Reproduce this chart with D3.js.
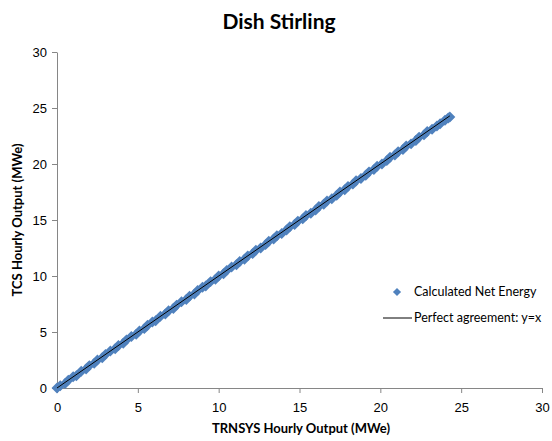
<!DOCTYPE html>
<html>
<head>
<meta charset="utf-8">
<script src="https://cdn.jsdelivr.net/npm/d3@7"></script>
<style>
  body { margin: 0; background: #fff; }
  svg { font-family: Lato, "Open Sans", sans-serif; }
</style>
</head>
<body>
<svg width="552" height="441"></svg>
<script>
// TRNSYS hourly output (MWe) vs TCS hourly output (MWe)
var trnsys = [
  0, 0.2, 0.5, 0.7, 1.0, 1.2, 1.5, 1.8, 2.0, 2.3,
  2.5, 2.8, 3.0, 3.3, 3.6, 3.8, 4.1, 4.3, 4.6, 4.9,
  5.1, 5.4, 5.6, 5.9, 6.1, 6.4, 6.7, 6.9, 7.2, 7.4,
  7.7, 8.0, 8.2, 8.5, 8.7, 9.0, 9.2, 9.5, 9.8, 10.0,
  10.3, 10.5, 10.8, 11.1, 11.3, 11.6, 11.8, 12.1, 12.3, 12.6,
  12.9, 13.1, 13.4, 13.6, 13.9, 14.2, 14.4, 14.7, 14.9, 15.2,
  15.4, 15.7, 16.0, 16.2, 16.5, 16.7, 17.0, 17.3, 17.5, 17.8,
  18.0, 18.3, 18.5, 18.8, 19.1, 19.3, 19.6, 19.8, 20.1, 20.4,
  20.6, 20.9, 21.1, 21.4, 21.6, 21.9, 22.2, 22.4, 22.7, 22.9,
  23.2, 23.5, 23.7, 24.0, 24.2, 24.3];
var tcs = [
  0, 0.2, 0.4, 0.7, 1.0, 1.1, 1.5, 1.7, 2.0, 2.2,
  2.5, 2.7, 3.0, 3.3, 3.5, 3.8, 4.0, 4.3, 4.6, 4.8,
  5.1, 5.3, 5.6, 5.9, 6.0, 6.4, 6.6, 6.9, 7.1, 7.4,
  7.7, 7.9, 8.2, 8.4, 8.7, 9.0, 9.1, 9.5, 9.7, 10.0,
  10.2, 10.5, 10.8, 11.0, 11.3, 11.5, 11.8, 12.0, 12.3, 12.5,
  12.8, 13.1, 13.3, 13.6, 13.8, 14.1, 14.4, 14.6, 14.9, 15.1,
  15.4, 15.6, 15.9, 16.2, 16.4, 16.7, 16.9, 17.2, 17.5, 17.7,
  18.0, 18.2, 18.5, 18.7, 19.0, 19.3, 19.5, 19.8, 20.0, 20.3,
  20.6, 20.8, 21.1, 21.3, 21.6, 21.8, 22.1, 22.4, 22.6, 22.9,
  23.1, 23.4, 23.6, 23.9, 24.1, 24.2];
var lineEnds = [0, 24.3];
var ticks = [0, 5, 10, 15, 20, 25, 30];
var seriesNames = ['Calculated Net Energy', 'Perfect agreement: y=x'];

var svg = d3.select('svg');
var margin = { top: 52, right: 10, bottom: 53, left: 57 };
var g = svg.append('g').attr('transform', `translate(${margin.left}, ${margin.top})`);

var blue = '#4f81bd';
var axisGrey = '#868686';

var x = d3.scaleLinear().domain([0, 30]).range([0, 485]);
var y = d3.scaleLinear().domain([0, 30]).range([336, 0]);

function customXAxis(sel) {
	sel.call(d3.axisBottom(x).tickValues(ticks).tickSize(5).tickSizeOuter(0));
	sel.select('.domain').attr('stroke', axisGrey);
	sel.selectAll('.tick line').attr('stroke', axisGrey);
	sel.selectAll('.tick text').attr('fill', '#000').attr('font-size', 13).attr('dy', '1.2em');
}

function customYAxis(sel) {
	sel.call(d3.axisLeft(y).tickValues(ticks).tickSize(5).tickSizeOuter(0));
	sel.select('.domain').attr('stroke', axisGrey);
	sel.selectAll('.tick line').attr('stroke', axisGrey);
	sel.selectAll('.tick text').attr('fill', '#000').attr('font-size', 13).attr('x', -10);
}

g.append('g').attr('transform', `translate(0,${y(0)})`).call(customXAxis);
g.append('g').call(customYAxis);

var diamond = d3.symbol().type(d3.symbolDiamond2).size(76);

g.append('g')
	.selectAll('path')
	.data(trnsys)
	.join('path')
	.attr('d', diamond)
	.attr('transform', (d, i) => `translate(${x(d)},${y(tcs[i])})`)
	.attr('fill', blue);

g.append('line')
	.attr('x1', x(lineEnds[0])).attr('y1', y(lineEnds[0]))
	.attr('x2', x(lineEnds[1])).attr('y2', y(lineEnds[1]))
	.attr('stroke', '#000').attr('stroke-width', 1);

// title and axis titles
svg.append('text')
	.attr('x', 279).attr('y', 29)
	.attr('text-anchor', 'middle')
	.attr('font-size', 21).attr('font-weight', 'bold')
	.text('Dish Stirling');

svg.append('text')
	.attr('x', 301).attr('y', 433)
	.attr('text-anchor', 'middle')
	.attr('font-size', 13).attr('font-weight', 'bold')
	.text('TRNSYS Hourly Output (MWe)');

svg.append('text')
	.attr('transform', 'translate(22,220) rotate(-90)')
	.attr('text-anchor', 'middle')
	.attr('font-size', 13).attr('font-weight', 'bold')
	.text('TCS Hourly Output (MWe)');

// legend
var legend = svg.append('g').attr('font-size', 12.5);
legend.append('path')
	.attr('d', d3.symbol().type(d3.symbolDiamond2).size(42))
	.attr('transform', 'translate(397,292)')
	.attr('fill', blue);
legend.append('text').attr('x', 414).attr('y', 296).text(seriesNames[0]);
legend.append('line')
	.attr('x1', 383).attr('x2', 412).attr('y1', 318).attr('y2', 318)
	.attr('stroke', '#000');
legend.append('text').attr('x', 414).attr('y', 322).text(seriesNames[1]);
</script>
</body>
</html>
